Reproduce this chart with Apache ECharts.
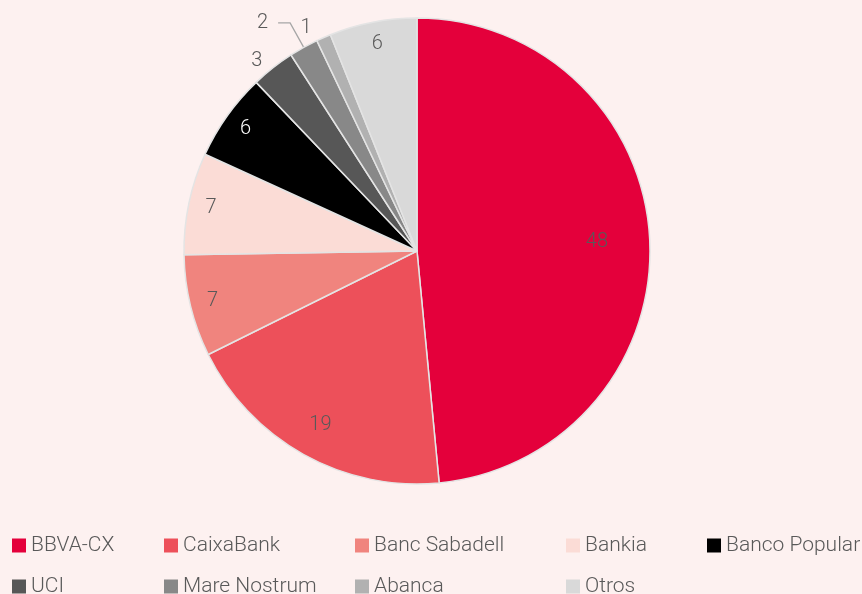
<!DOCTYPE html>
<html>
<head>
<meta charset="utf-8">
<script src="https://cdn.jsdelivr.net/npm/echarts@6/dist/echarts.min.js"></script>
<style>
  html, body { margin: 0; padding: 0; background: #fdf1f0; }
  #chart { width: 862px; height: 594px; }
</style>
</head>
<body>
<div id="chart"></div>
<script>
const banks = ["BBVA-CX", "CaixaBank", "Banc Sabadell", "Bankia", "Banco Popular", "UCI", "Mare Nostrum", "Abanca", "Otros"]
const shares = [48, 19, 7, 7, 6, 3, 2, 1, 6]
const colors = ["#e4003b", "#ed505a", "#f0847e", "#fbdcd6", "#000000", "#575757", "#888888", "#b1b1b1", "#d9d9d9"]

// legend laid out as a table of 5 columns, 2 rows
const columnLeft = [12, 164, 355, 566, 707]
const rowTop = [535, 576]

const CX = 417
const CY = 251
const R = 233
const FONT = "Roboto"
const TEXT = "#595959"

const chart = echarts.init(document.getElementById("chart"))

// labels sitting outside the pie (small slices)
const outsideLabels = {
  "UCI": { length: 9, length2: 1, dist: 4, line: false },
  "Mare Nostrum": { length: 28, length2: 12, dist: 10, line: true },
  "Abanca": { length: 10, length2: 3, dist: 5, line: false },
}

const mainData = banks.map((name, i) => {
  const o = outsideLabels[name]
  return {
    name,
    value: shares[i],
    itemStyle: { color: colors[i] },
    label: o
      ? { show: true, position: "outside", distanceToLabelLine: o.dist }
      : { show: false },
    labelLine: o
      ? { show: o.line, length: o.length, length2: o.length2, lineStyle: { color: "#a6a6a6", width: 1.3 } }
      : { show: false },
  }
})

// transparent overlay pies to put inside labels at a given fraction of the radius
function labelRing(ratio, names) {
  return {
    type: "pie",
    silent: true,
    center: [CX, CY],
    radius: [0, R * ratio * 2],
    startAngle: 90,
    clockwise: true,
    avoidLabelOverlap: false,
    itemStyle: { color: "rgba(0,0,0,0)", borderWidth: 0 },
    labelLine: { show: false },
    data: banks.map((name, i) => ({
      name,
      value: shares[i],
      label: {
        show: names.includes(name),
        position: "inside",
        color: name === "Banco Popular" ? "#ffffff" : TEXT,
      },
    })),
    label: { fontFamily: FONT, fontWeight: 300, fontSize: 20, formatter: "{c}" },
    emphasis: { disabled: true },
    tooltip: { show: false },
  }
}

chart.setOption({
  backgroundColor: "#fdf1f0",
  animation: false,
  legend: banks.map((name, i) => ({
    left: columnLeft[i % 5],
    top: rowTop[Math.floor(i / 5)],
    padding: 0,
    itemWidth: 14,
    itemHeight: 14,
    icon: "rect",
    itemStyle: { borderWidth: 0 },
    data: [name],
    selectedMode: false,
    textStyle: {
      color: TEXT,
      fontFamily: FONT,
      fontWeight: 300,
      fontSize: 21,
      lineHeight: 20,
    },
  })),
  series: [
    {
      type: "pie",
      name: "main",
      center: [CX, CY],
      radius: [0, R],
      startAngle: 90,
      clockwise: true,
      avoidLabelOverlap: false,
      itemStyle: { borderColor: "#e4e4e4", borderWidth: 1.5 },
      label: { fontFamily: FONT, fontWeight: 300, fontSize: 20, color: TEXT, formatter: "{c}" },
      emphasis: { disabled: true },
      data: mainData,
    },
    labelRing(0.76, ["BBVA-CX"]),
    labelRing(0.84, ["CaixaBank"]),
    labelRing(0.89, ["Banc Sabadell", "Bankia", "Banco Popular", "Otros"]),
  ],
})

window.addEventListener("resize", () => chart.resize())
</script>
</body>
</html>
